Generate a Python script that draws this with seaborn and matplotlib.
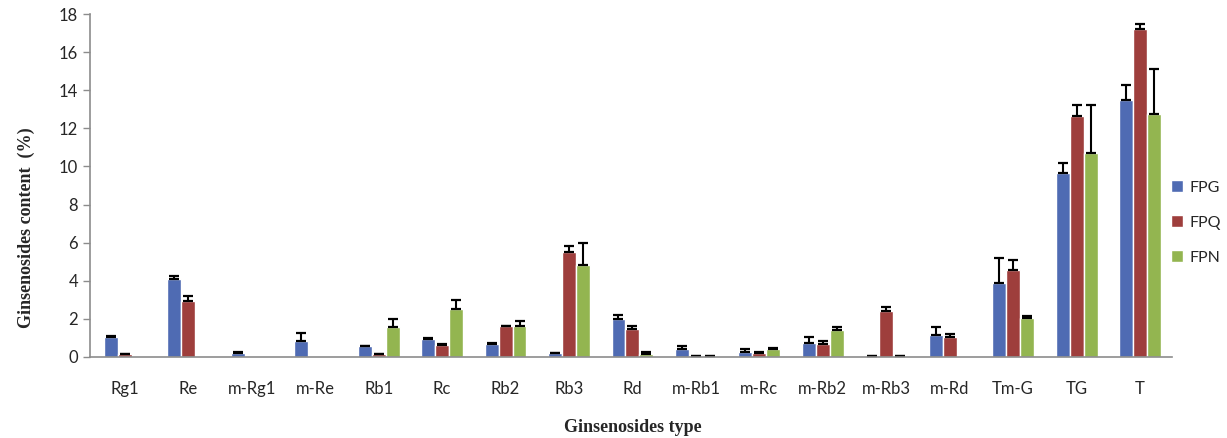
import numpy as np
import pandas as pd
import matplotlib
matplotlib.use("Agg")
import matplotlib.pyplot as plt
import seaborn as sns

types = ["Rg1", "Re", "m-Rg1", "m-Re", "Rb1", "Rc", "Rb2", "Rb3", "Rd",
         "m-Rb1", "m-Rc", "m-Rb2", "m-Rb3", "m-Rd", "Tm-G", "TG", "T"]
groups = ["FPG", "FPQ", "FPN"]

fpg = [1.05, 4.1, 0.2, 0.85, 0.55, 0.95, 0.7, 0.2, 2.0, 0.4, 0.25, 0.75, 0.05, 1.15, 3.87, 9.63, 13.48]
fpq = [0.15, 2.95, 0.0, 0.0, 0.15, 0.65, 1.6, 5.5, 1.45, 0.05, 0.2, 0.7, 2.4, 1.05, 4.56, 12.64, 17.19]
fpn = [0.0, 0.0, 0.0, 0.0, 1.55, 2.5, 1.6, 4.85, 0.15, 0.05, 0.4, 1.4, 0.05, 0.0, 2.03, 10.72, 12.73]

fpg_err = [0.05, 0.15, 0.05, 0.4, 0.02, 0.05, 0.05, 0.03, 0.2, 0.15, 0.15, 0.3, 0.02, 0.4, 1.3, 0.53, 0.82]
fpq_err = [0.02, 0.25, 0.0, 0.0, 0.02, 0.05, 0.02, 0.3, 0.15, 0.02, 0.05, 0.15, 0.2, 0.15, 0.53, 0.56, 0.3]
fpn_err = [0.0, 0.0, 0.0, 0.0, 0.45, 0.5, 0.3, 1.15, 0.1, 0.02, 0.05, 0.15, 0.02, 0.0, 0.12, 2.48, 2.36]

colors = ["#4F6BB3", "#9E3E3C", "#93B550"]


def main():
    df = pd.DataFrame({
        "type": types * 3,
        "group": np.repeat(groups, len(types)),
        "value": fpg + fpq + fpn,
    })
    errs = [fpg_err, fpq_err, fpn_err]

    sns.set_style("white")
    plt.rcParams["font.family"] = ["Lato", "DejaVu Sans"]

    fig = plt.figure(figsize=(12.27, 4.38), dpi=100)
    ax = fig.add_axes([0.0733, 0.185, 0.8817, 0.783])

    sns.barplot(data=df, x="type", y="value", hue="group", order=types,
                hue_order=groups, palette=colors, width=0.66, gap=0,
                saturation=1, errorbar=None, ax=ax, legend=True)

    # one-sided error bars on top of each bar
    for cont, err in zip(ax.containers, errs):
        for bar, e in zip(cont, err):
            h = bar.get_height()
            if h <= 0:
                continue
            x = bar.get_x() + bar.get_width() / 2
            ax.errorbar(x, h, yerr=[[0], [e]], fmt="none", ecolor="black",
                        elinewidth=1.5, capsize=3.6, capthick=1.6)

    ax.set_xlim(-0.55, 16.5)
    ax.set_ylim(0, 18)
    ax.set_yticks(range(0, 19, 2))

    sns.despine(ax=ax)
    for side in ["left", "bottom"]:
        ax.spines[side].set_color("#8C8C8C")
        ax.spines[side].set_linewidth(1.2)

    ax.tick_params(axis="x", length=0, pad=17, labelsize=12)
    ax.tick_params(axis="y", length=5, width=1, color="#8C8C8C", labelsize=12, left=True)

    serif = dict(family=["Liberation Serif", "DejaVu Serif"], fontweight="bold", fontsize=13)
    ax.set_xlabel("Ginsenosides type", **serif)
    ax.set_ylabel("Ginsenosides content  (%)", **serif)
    ax.xaxis.set_label_coords(0.502, -0.182)
    ax.yaxis.set_label_coords(-0.051, 0.376)

    handles, labels = ax.get_legend_handles_labels()
    ax.legend(handles, labels, loc="center left", bbox_to_anchor=(0.949, 0.492),
              bbox_transform=fig.transFigure, frameon=False, fontsize=11.5,
              handlelength=0.75, handleheight=0.75, handletextpad=0.45,
              labelspacing=1.3, borderaxespad=0)

    fig.savefig("out.png", dpi=100)


if __name__ == "__main__":
    main()
